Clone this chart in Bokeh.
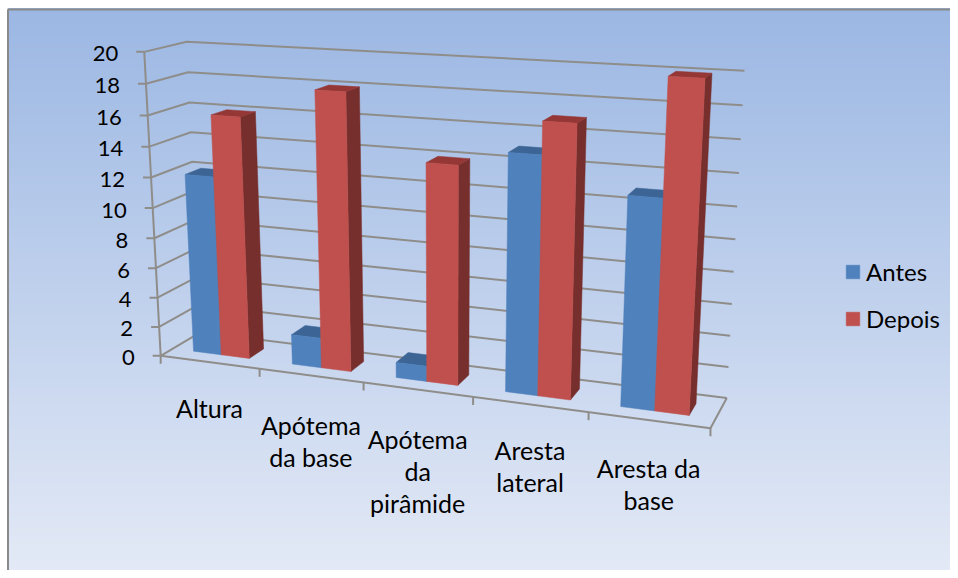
import numpy as np
from bokeh.plotting import figure
from bokeh.models import Legend, LegendItem
from bokeh.core.properties import value
from bokeh.embed import file_html
from bokeh.resources import INLINE

# ---- data ----
categories = [["Altura"], ["Apótema", "da base"], ["Apótema", "da", "pirâmide"], ["Aresta", "lateral"], ["Aresta da", "base"]]
antes = [12, 2, 1, 15, 13]
depois = [16, 18, 14, 17, 20]
value_ticks = list(range(0, 21, 2))
series_names = ["Antes", "Depois"]
label_drop = [46, 49, 49, 46, 48]

# ---- camera: world (category position, depth, value) -> screen pixel ----
cal_world = [(0,0,20),(0,0,10),(0,0,0),(0,1,20),(0,1,0),(5,1,20),(5,1,10),(5,1,0),(5,0,0),(1,0,0),(2,0,0),(3,0,0),(4,0,0)]
cal_px = [(144,52),(152,207),(160,355),(186,41),(200,332.5),(744,70),(735,239),(726,397),(710,428),(259,368),(363,382),(473,396.5),(588,412)]

rows = []
for (u, w, v), (sx, sy) in zip(cal_world, cal_px):
    X = [u/5, w, v/20, 1]
    sx, sy = sx/1000, sy/1000
    rows.append(X + [0, 0, 0, 0] + [-sx*c for c in X])
    rows.append([0, 0, 0, 0] + X + [-sy*c for c in X])
CAM = np.linalg.svd(np.array(rows))[2][-1].reshape(3, 4)

def proj(u, w, v):
    q = CAM @ np.array([u/5, w, v/20, 1.0])
    return (q[0]/q[2]*1000, q[1]/q[2]*1000)

def poly(pts):
    p_ = [proj(*a) for a in pts]
    return [a[0] for a in p_], [a[1] for a in p_]

W, H = 950, 570
p = figure(width=W, height=H, x_range=(0, W), y_range=(H, 0), output_backend="svg",
           toolbar_location=None, min_border=0, outline_line_color=None,
           background_fill_color="#ffffff", border_fill_color="#ffffff")
p.axis.visible = False
p.grid.visible = False

# background gradient
top_c = np.array([155, 183, 227]); bot_c = np.array([228, 234, 246])
ys = np.arange(8, H)
t = (ys - 8)/570
cols = ["#%02x%02x%02x" % tuple(int(round(c)) for c in top_c + (bot_c - top_c)*f) for f in t]
p.quad(left=8, right=W, top=ys, bottom=ys+1, fill_color=cols, line_color=cols, line_width=1)

# frame
p.multi_line([[7.5, 7.5], [7, W]], [[H, 9], [9, 9]], line_color="#8a8a8a", line_width=2)

GRID = "#8f8d8a"
LW = 2
xs, ys_ = [], []
for v in value_ticks:
    a = poly([(0, 0, v), (0, 1, v), (5, 1, v)])
    xs.append(a[0]); ys_.append(a[1])
    x0, y0 = proj(0, 0, v)
    xs.append([x0-8, x0]); ys_.append([y0, y0])
a = poly([(0, 0, 0), (0, 0, 20)]); xs.append(a[0]); ys_.append(a[1])
a = poly([(0, 0, 0), (5, 0, 0), (5, 1, 0)]); xs.append(a[0]); ys_.append(a[1])
for i in range(6):
    x0, y0 = proj(i, 0, 0)
    xs.append([x0, x0]); ys_.append([y0, y0+8])
p.multi_line(xs, ys_, line_color=GRID, line_width=LW)

# bars
BW = 0.285
W0, W1 = 0.30, 0.69
def faces(vals, offs):
    fr, si, to = ([], []), ([], []), ([], [])
    for i, val in enumerate(vals):
        l = i + 0.5 + offs; r = l + BW
        f = poly([(l, W0, 0), (r, W0, 0), (r, W0, val), (l, W0, val)])
        s = poly([(r, W0, 0), (r, W1, 0), (r, W1, val), (r, W0, val)])
        tp = poly([(l, W0, val), (r, W0, val), (r, W1, val), (l, W1, val)])
        for tgt, src in ((fr, f), (si, s), (to, tp)):
            tgt[0].append(src[0]); tgt[1].append(src[1])
    return fr, si, to

renderers = []
for vals, offs, cf, cs, ct in ((antes, -BW, "#4f81bd", "#2f5a8c", "#3c6595"),
                               (depois, 0.0, "#c0504d", "#772f2d", "#953735")):
    fr, si, to = faces(vals, offs)
    p.patches(si[0], si[1], fill_color=cs, line_color=cs, line_width=0.5)
    p.patches(to[0], to[1], fill_color=ct, line_color=ct, line_width=0.5)
    renderers.append(p.patches(fr[0], fr[1], fill_color=cf, line_color=cf, line_width=0.5))

FONT = value("Lato")
tx, ty = zip(*[proj(0, 0, v) for v in value_ticks])
p.text(list(tx), list(ty), text=[str(v) for v in value_ticks], x_offset=-26, y_offset=2,
       text_align="right", text_baseline="middle", text_font=FONT, text_font_size="22px", text_color="#000000")

cx, cy, ct_ = [], [], []
for i, lines in enumerate(categories):
    x0, y0 = proj(i+0.5, 0, 0)
    for j, line in enumerate(lines):
        cx.append(x0); cy.append(y0 + label_drop[i] + j*32); ct_.append(line)
p.text(cx, cy, text=ct_, text_align="center", text_baseline="middle",
       text_font=FONT, text_font_size="25px", text_color="#000000")

leg = Legend(items=[LegendItem(label=n, renderers=[r]) for n, r in zip(series_names, renderers)],
             location=(844, 237), orientation="vertical", border_line_color=None,
             background_fill_alpha=0, glyph_width=17, glyph_height=17, label_standoff=5,
             spacing=18, padding=0, margin=0, label_text_font="Lato", label_text_font_size="24px",
             label_text_color="#000000", label_height=24)
p.add_layout(leg)

open("out.html", "w").write(file_html(p, INLINE))
